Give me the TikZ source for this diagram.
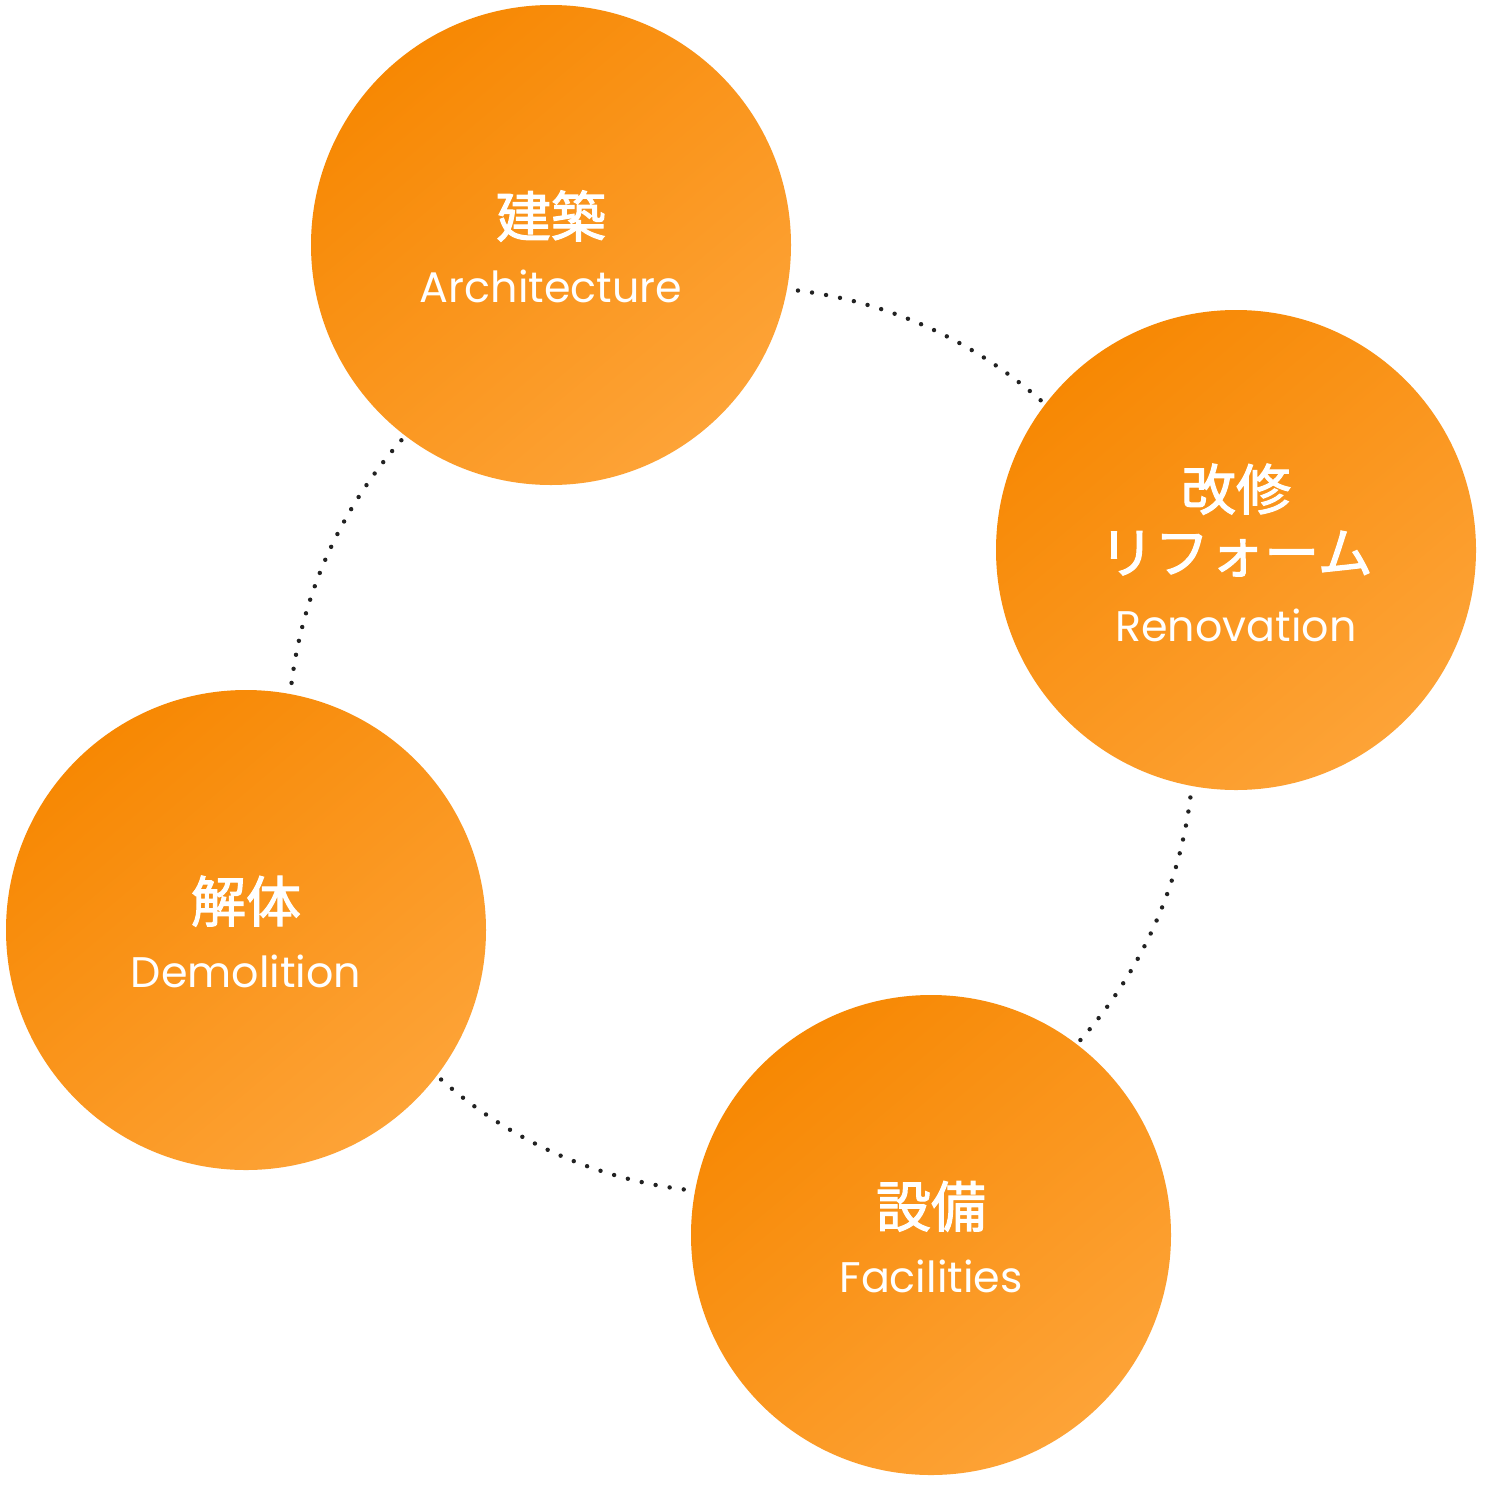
\documentclass[tikz,border=0pt]{standalone}
\usepackage{fontspec}
\newfontfamily\pop{Poppins}
\newfontfamily\jp{Noto Sans CJK JP}[FakeBold=2]
\definecolor{orA}{HTML}{F78803}
\definecolor{orB}{HTML}{FDA337}
\definecolor{dotc}{HTML}{222222}
\begin{document}
\begin{tikzpicture}[x=0.5pt,y=-0.5pt,
 orb/.style={circle, minimum size=240pt, inner sep=0pt, top color=orA, bottom color=orB, shading angle=40, draw=none},
 jlab/.style={text=white, font=\jp\fontsize{27.5}{32}\selectfont, anchor=base, inner sep=0pt},
 elab/.style={text=white, font=\pop\fontsize{21.4}{25}\selectfont, anchor=base, inner sep=0pt},
 ring/.style={draw=dotc, line width=2.2pt, line cap=round, dash pattern=on 0pt off 7.115pt}]
\fill[white] (0,0) rectangle (1494,1494);
\coordinate (ringc) at (741,740);
\draw[ring] (ringc) circle[radius=226.5pt];
\node[orb] (arch) at (551,245) {};
\node[orb] (reno) at (1236,550) {};
\node[orb] (demo) at (246,930) {};
\node[orb] (faci) at (931,1235) {};
\node[jlab] (archj) at (551,237) {建築};
\node[elab] (arche) at (551,302) {Architecture};
\node[jlab] (renoj1) at (1236,510) {改修};
\node[jlab] (renoj2) at (1236,573) {リフォーム};
\node[elab] (renoe) at (1236,641) {Renovation};
\node[jlab] (demoj) at (246,922) {解体};
\node[elab] (demoe) at (246,987) {Demolition};
\node[jlab] (facij) at (931,1227) {設備};
\node[elab] (facie) at (931,1292) {Facilities};
\end{tikzpicture}
\end{document}
